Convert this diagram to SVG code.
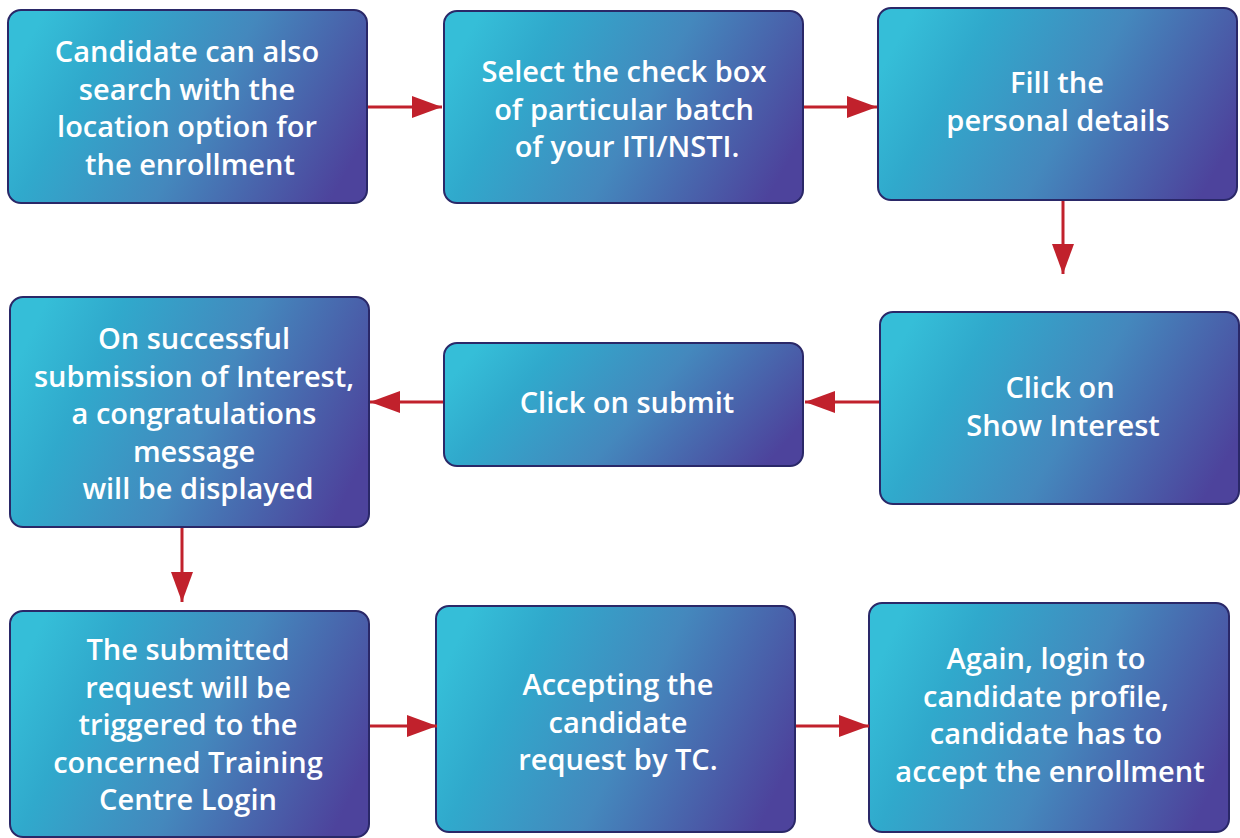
<svg xmlns="http://www.w3.org/2000/svg" width="1240" height="838" viewBox="0 0 1240 838">
<defs>
<linearGradient id="g" x1="0" y1="0.35" x2="1" y2="0.65">
<stop offset="0" stop-color="#35bed8"/>
<stop offset="0.2" stop-color="#30a9cc"/>
<stop offset="0.55" stop-color="#4488bd"/>
<stop offset="1" stop-color="#4d439c"/>
</linearGradient>
<marker id="a" viewBox="0 0 30 22" refX="30" refY="11" markerWidth="30" markerHeight="22" orient="auto" markerUnits="userSpaceOnUse">
<path d="M0,0 L30,11 L0,22 Z" fill="#c1212c"/>
</marker>
</defs>
<style>
.box{fill:url(#g);stroke:#2a2868;stroke-width:2}
.t{font-family:"Open Sans","Noto Sans","Liberation Sans",sans-serif;font-weight:600;font-size:29px;fill:#ffffff;text-anchor:middle}
.c{stroke:#c1212c;stroke-width:3;fill:none;marker-end:url(#a)}
</style>
<rect width="1240" height="838" fill="#ffffff"/>
<g id="n1"><rect class="box" x="8" y="10" width="359" height="193" rx="13"/>
<text class="t"><tspan x="187" y="62">Candidate can also</tspan><tspan x="187" y="99.5">search with the</tspan><tspan x="187" y="137">location option for</tspan><tspan x="190" y="174.5">the enrollment</tspan></text></g>
<g id="n2"><rect class="box" x="444" y="11" width="359" height="192" rx="13"/>
<text class="t"><tspan x="624" y="82">Select the check box</tspan><tspan x="624" y="119.5">of particular batch</tspan><tspan x="627" y="157">of your ITI/NSTI.</tspan></text></g>
<g id="n3"><rect class="box" x="878" y="8" width="359" height="192" rx="13"/>
<text class="t"><tspan x="1057" y="93">Fill the</tspan><tspan x="1058" y="130.5">personal details</tspan></text></g>
<g id="n4"><rect class="box" x="880" y="312" width="359" height="192" rx="13"/>
<text class="t"><tspan x="1060" y="398">Click on</tspan><tspan x="1063" y="436">Show Interest</tspan></text></g>
<g id="n5"><rect class="box" x="444" y="343" width="359" height="123" rx="13"/>
<text class="t"><tspan x="627" y="413">Click on submit</tspan></text></g>
<g id="n6"><rect class="box" x="10" y="297" width="359" height="230" rx="13"/>
<text class="t"><tspan x="194" y="349">On successful</tspan><tspan x="194" y="386.5">submission of Interest,</tspan><tspan x="194" y="424">a congratulations</tspan><tspan x="194" y="461.5">message</tspan><tspan x="198" y="499">will be displayed</tspan></text></g>
<g id="n7"><rect class="box" x="10" y="611" width="359" height="226" rx="13"/>
<text class="t"><tspan x="188" y="660">The submitted</tspan><tspan x="188" y="697.5">request will be</tspan><tspan x="188" y="735">triggered to the</tspan><tspan x="188" y="772.5">concerned Training</tspan><tspan x="188" y="810">Centre Login</tspan></text></g>
<g id="n8"><rect class="box" x="436" y="606" width="359" height="226" rx="13"/>
<text class="t"><tspan x="618" y="695">Accepting the</tspan><tspan x="618" y="732.5">candidate</tspan><tspan x="618" y="770">request by TC.</tspan></text></g>
<g id="n9"><rect class="box" x="869" y="603" width="360" height="229" rx="13"/>
<text class="t"><tspan x="1046" y="669">Again, login to</tspan><tspan x="1046" y="706.5">candidate profile,</tspan><tspan x="1046" y="744">candidate has to</tspan><tspan x="1050" y="781.5">accept the enrollment</tspan></text></g>
<g id="connectors">
<line class="c" x1="368" y1="107" x2="442" y2="107"/>
<line class="c" x1="804" y1="107" x2="877" y2="107"/>
<line class="c" x1="1063" y1="201" x2="1063" y2="274"/>
<line class="c" x1="879" y1="402" x2="805" y2="402"/>
<line class="c" x1="443" y1="402" x2="370" y2="402"/>
<line class="c" x1="182" y1="528" x2="182" y2="602"/>
<line class="c" x1="370" y1="726" x2="437" y2="726"/>
<line class="c" x1="796" y1="726" x2="869" y2="726"/>
</g>
</svg>
